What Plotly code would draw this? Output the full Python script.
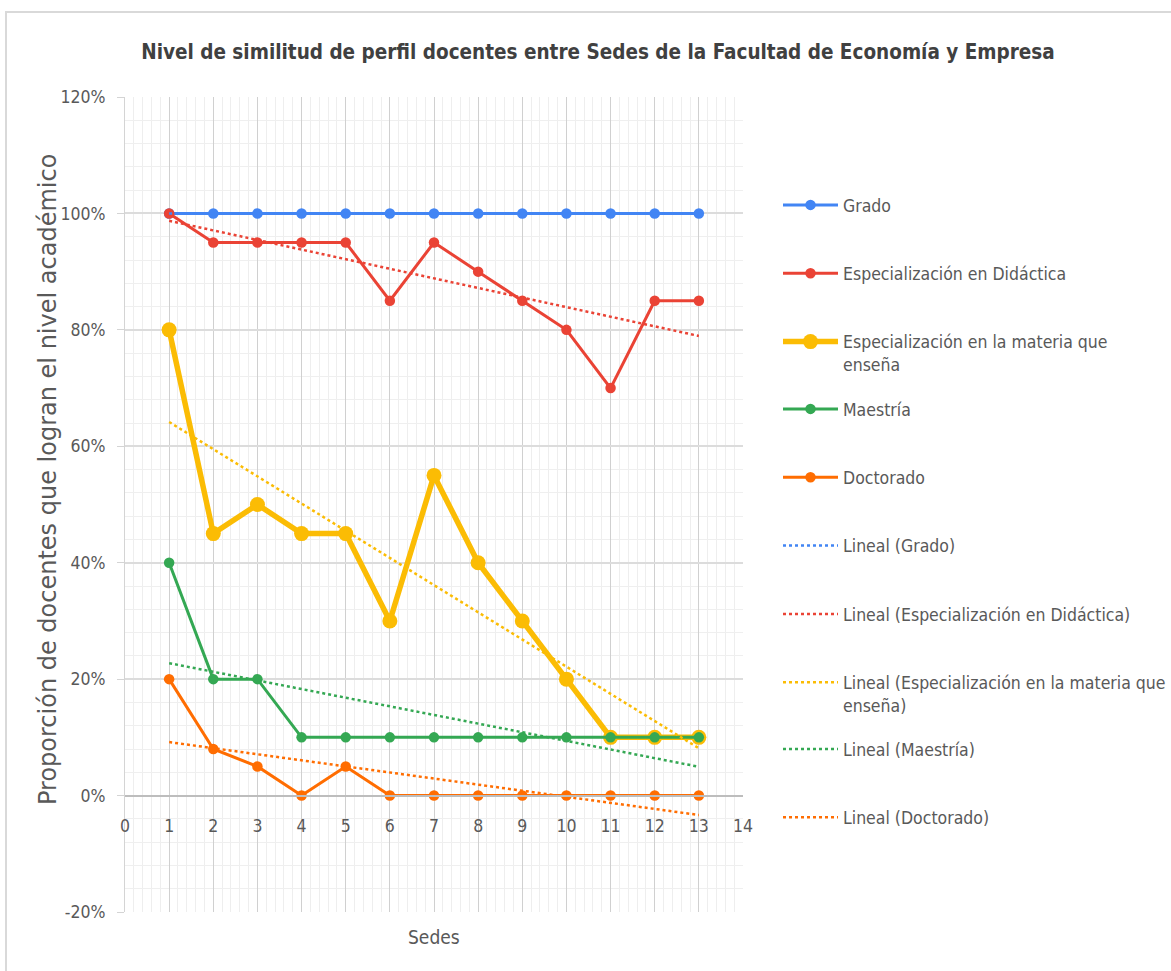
import numpy as np
import plotly.graph_objects as go

# Sedes (sites) and share of teachers reaching each academic level, in %
sedes = list(range(1, 14))
grado = [100, 100, 100, 100, 100, 100, 100, 100, 100, 100, 100, 100, 100]
esp_didactica = [100, 95, 95, 95, 95, 85, 95, 90, 85, 80, 70, 85, 85]
esp_materia = [80, 45, 50, 45, 45, 30, 55, 40, 30, 20, 10, 10, 10]
maestria = [40, 20, 20, 10, 10, 10, 10, 10, 10, 10, 10, 10, 10]
doctorado = [20, 8, 5, 0, 5, 0, 0, 0, 0, 0, 0, 0, 0]

series_names = ["Grado", "Especialización en Didáctica",
                "Especialización en la materia que<br>enseña", "Maestría", "Doctorado"]
trend_names = ["Lineal (Grado)", "Lineal (Especialización en Didáctica)",
               "Lineal (Especialización en la materia que<br>enseña)",
               "Lineal (Maestría)", "Lineal (Doctorado)"]
series_values = [grado, esp_didactica, esp_materia, maestria, doctorado]
colors = ["#4285F4", "#EA4335", "#FBBC04", "#34A853", "#FF6D01"]

x_ticks = list(range(0, 15))
y_ticks = list(range(-20, 121, 20))
y_tick_labels = [f"{v}%" for v in y_ticks]

FONT = "DejaVu Sans Condensed, Liberation Sans Narrow, Roboto, sans-serif"
WIDE_FONT = "DejaVu Sans, Verdana, sans-serif"
TEXT = "#595959"

W, H = 1171, 971
ML, MR, MT, MB = 125, 428, 97, 59
PW, PH = W - ML - MR, H - MT - MB

fig = go.Figure()

# legend slots: which legend each entry belongs to
legend_of = ["legend", "legend", "legend", "legend2", "legend2",
             "legend2", "legend2", "legend2", "legend3", "legend3"]

for i, (name, vals, col) in enumerate(zip(series_names, series_values, colors)):
    big = i == 2
    fig.add_trace(go.Scatter(
        x=sedes, y=vals, name=name, mode="lines+markers",
        line=dict(color=col, width=5.5 if big else 3),
        marker=dict(color=col, size=15 if big else 10.5),
        legend=legend_of[i], legendgroup=f"s{i}",
    ))

# linear trendlines fitted to each series
for i, (name, vals, col) in enumerate(zip(trend_names, series_values, colors)):
    slope, intercept = np.polyfit(sedes, vals, 1)
    xs = [sedes[0], sedes[-1]]
    ys = [slope * v + intercept for v in xs]
    fig.add_trace(go.Scatter(
        x=xs, y=ys, name=name, mode="lines",
        line=dict(color=col, width=2.5, dash="dot"),
        legend=legend_of[i + 5], legendgroup=f"t{i}",
    ))

ymin, ymax = y_ticks[0], y_ticks[-1]
x_axis_pos = (0 - ymin) / (ymax - ymin)

fig.update_xaxes(
    range=[x_ticks[0], x_ticks[-1]], tickvals=x_ticks,
    anchor="free", position=x_axis_pos,
    showline=True, linecolor="#bdbdbd", linewidth=1.5,
    showgrid=True, gridcolor="#d0d0d0", gridwidth=1.2,
    minor=dict(dtick=0.2, showgrid=True, gridcolor="#eeeeee", gridwidth=1),
    ticks="outside", ticklen=15, tickcolor="rgba(0,0,0,0)",
    tickfont=dict(family=FONT, size=17.5, color=TEXT),
    zeroline=False, mirror=False,
)
fig.update_yaxes(
    range=[ymin, ymax], tickvals=y_ticks, ticktext=y_tick_labels,
    showline=True, linecolor="#d4d4d4", linewidth=1.2,
    showgrid=True, gridcolor="#dcdcdc", gridwidth=1.5,
    minor=dict(dtick=4, showgrid=True, gridcolor="#efefef", gridwidth=1),
    ticks="outside", ticklen=7, tickcolor="#d4d4d4",
    ticklabelstandoff=8,
    tickfont=dict(family=FONT, size=17.5, color=TEXT),
    zeroline=False,
)

legend_common = dict(
    xref="container", yref="container", x=778 / W, xanchor="left",
    yanchor="top", font=dict(family=FONT, size=17.5, color=TEXT),
    bgcolor="rgba(0,0,0,0)", tracegroupgap=42.6, itemwidth=55,
    valign="top", itemclick=False,
)

fig.update_layout(
    width=W, height=H,
    margin=dict(l=ML, r=MR, t=MT, b=MB, autoexpand=False),
    paper_bgcolor="white", plot_bgcolor="white",
    title=dict(
        text="<b>Nivel de similitud de perfil docentes entre Sedes de la Facultad de Economía y Empresa</b>",
        xref="container", yref="container", x=598 / W, y=1 - 52 / H,
        xanchor="center", yanchor="middle",
        font=dict(family=FONT, size=20.5, color="#404040"),
    ),
    legend=dict(**legend_common, y=1 - 187 / H),
    legend2=dict(**legend_common, y=1 - 391 / H),
    legend3=dict(**legend_common, y=1 - 731 / H),
    showlegend=True,
    annotations=[
        dict(text="Proporción de docentes que logran el nivel académico",
             xref="paper", yref="paper", x=(48 - ML) / PW, y=1 - (480 - MT) / PH,
             textangle=-90, showarrow=False, xanchor="center", yanchor="middle",
             font=dict(family=WIDE_FONT, size=24, color=TEXT)),
        dict(text="Sedes", xref="paper", yref="paper", x=0.5,
             y=1 - (937 - MT) / PH, showarrow=False, xanchor="center",
             yanchor="middle", font=dict(family=FONT, size=19, color=TEXT)),
    ],
    shapes=[
        dict(type="rect", xref="paper", yref="paper", layer="below",
             x0=(6 - ML) / PW, x1=(W + 5 - ML) / PW,
             y0=1 - (H + 5 - MT) / PH, y1=1 - (12 - MT) / PH,
             line=dict(color="#d9d9d9", width=2), fillcolor="rgba(0,0,0,0)"),
    ],
)

fig.write_html("out.html")
